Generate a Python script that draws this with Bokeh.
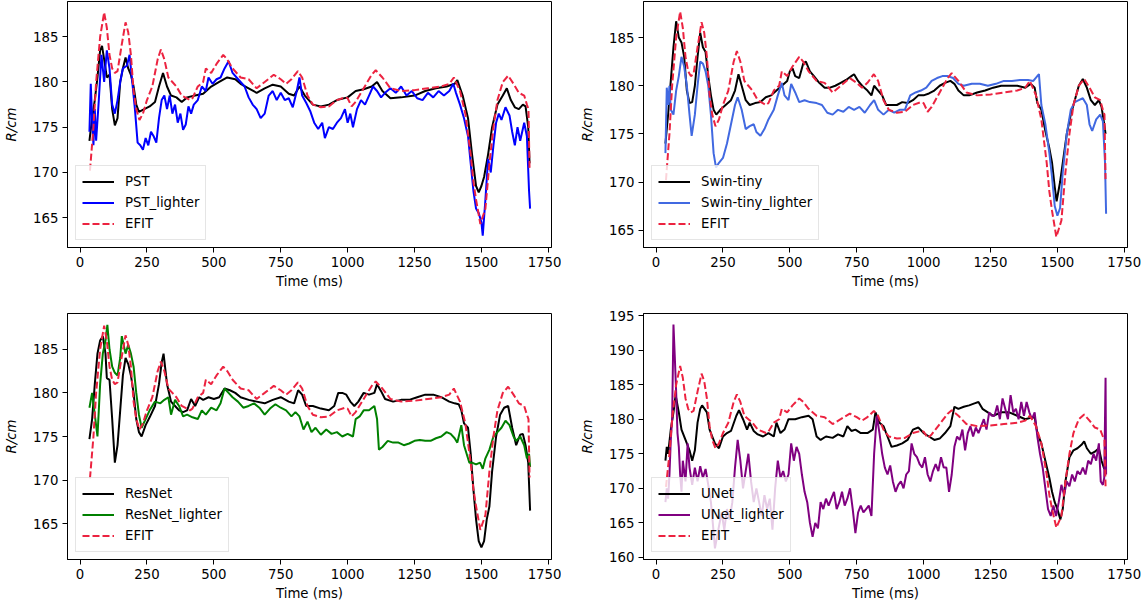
from bokeh.plotting import figure
from bokeh.layouts import gridplot
from bokeh.models import Range1d, FixedTicker, Legend, LegendItem
from bokeh.embed import file_html
from bokeh.resources import INLINE

# ---------------- data ----------------
efit_t = [37, 50, 60, 75, 90, 100, 110, 120, 130, 140, 155, 170, 180, 190, 200, 210, 222, 235, 250, 270,
          290, 302, 315, 330, 345, 360, 380, 411, 420, 440, 460, 470, 490, 510, 535, 550, 570, 600, 630, 660,
          690, 724, 750, 770, 790, 814, 830, 850, 870, 900, 930, 960, 990, 1000, 1015, 1030, 1060, 1090, 1105, 1130,
          1160, 1200, 1250, 1300, 1350, 1380, 1397, 1420, 1440, 1460, 1470, 1480, 1496, 1515, 1530, 1545, 1560, 1580, 1600, 1620,
          1640, 1660, 1670, 1676, 1680]
efit_v = [170.2, 175, 180, 185, 187.7, 186, 183, 181.5, 181, 181.2, 184, 186.6, 185.5, 183, 179, 177, 175.8, 176.5, 178, 179.5,
          182.5, 183.6, 182.5, 180.5, 180, 179.5, 178.5, 178, 178.2, 179.5, 180, 181.5, 181, 182, 183, 182.5, 181.5, 180.5, 180.3, 179.3,
          180, 180.8, 180.3, 179.8, 180.3, 181.2, 180.5, 178.5, 177.5, 177.2, 177.3, 178, 178.3, 178.2, 177.3, 177.8, 179.3, 180.8, 181.3, 180.5,
          179.3, 179, 179.1, 179.3, 179.5, 179.8, 180.5, 179, 176.5, 172, 169, 167, 164.3, 166, 171, 175, 178, 180, 180.7, 179.8,
          178.8, 178.5, 177.5, 177, 170.3]

pst_t = [35, 45, 55, 65, 75, 82, 90, 100, 110, 120, 130, 140, 150, 160, 170, 180, 190, 200, 210, 220,
         240, 260, 280, 295, 310, 325, 340, 360, 380, 400, 430, 460, 490, 520, 550, 580, 600, 630, 660, 690,
         720, 750, 780, 800, 820, 840, 870, 900, 930, 960, 1000, 1030, 1060, 1090, 1110, 1130, 1160, 1200, 1250, 1290,
         1330, 1370, 1400, 1410, 1430, 1450, 1465, 1480, 1490, 1500, 1510, 1525, 1540, 1560, 1580, 1595, 1610, 1625, 1640, 1655,
         1665, 1675, 1680]
pst_v = [173.5, 176, 178, 180.5, 183.5, 184, 182.5, 180.5, 180.8, 177, 175.2, 176, 180, 181.5, 182.7, 181.5, 180.8, 179.5, 177.5, 176.7,
         177, 177.3, 177.8, 179.5, 181, 179.5, 178.5, 178.3, 177.8, 178.3, 178.5, 178.7, 179.5, 180, 180.5, 180.3, 179.8, 179.3, 178.8, 179.3,
         179.7, 179.5, 178.7, 178.5, 179.5, 178.5, 177.5, 177.3, 177.5, 178, 178.3, 179, 179.2, 179.5, 180, 179, 178.2, 178.3, 178.5, 179,
         179.3, 179.5, 179.8, 180.2, 178.5, 176, 172, 168.5, 167.8, 168.5, 169.5, 172, 175, 177.5, 178.5, 179.3, 178, 177.2, 177, 177.5,
         177.3, 175, 171]

pstl_t = [35, 40, 45, 50, 55, 60, 70, 80, 90, 100, 110, 120, 130, 140, 150, 160, 175, 185, 195, 205,
          215, 225, 235, 245, 255, 265, 275, 285, 295, 305, 315, 325, 335, 345, 355, 365, 375, 385, 395, 405,
          415, 425, 440, 455, 470, 480, 495, 510, 525, 540, 555, 570, 585, 600, 615, 630, 645, 660, 675, 690,
          705, 720, 735, 750, 765, 780, 795, 810, 820, 830, 845, 860, 875, 890, 905, 915, 930, 945, 960, 975,
          990, 1000, 1010, 1020, 1035, 1050, 1065, 1080, 1095, 1110, 1125, 1140, 1160, 1180, 1200, 1220, 1240, 1260, 1280, 1300,
          1320, 1340, 1360, 1380, 1395, 1405, 1420, 1435, 1450, 1460, 1470, 1480, 1490, 1500, 1505, 1515, 1525, 1535, 1545, 1555,
          1565, 1575, 1590, 1605, 1615, 1625, 1635, 1645, 1660, 1670, 1678, 1682]
pstl_v = [174.5, 179.8, 176, 173, 177, 173.5, 178, 183, 180, 183.5, 181.5, 177.5, 176.5, 178, 180, 181.5, 181.8, 183, 180, 177,
          173.3, 173, 172.5, 173.8, 173, 174.5, 174, 173.3, 176, 178, 178.5, 177, 178.5, 176.5, 177.5, 175.5, 176.5, 174.7, 175.3, 177.3,
          176.5, 177.5, 178, 179.5, 179, 180.5, 179.8, 180.3, 180.5, 181.5, 182.3, 181, 180.5, 180, 179.5, 178.3, 177.5, 177, 176, 176.5,
          178.5, 179, 178, 178.8, 178, 178.2, 177.2, 179, 180.5, 178.5, 177.7, 176.8, 175.5, 174.8, 175.5, 173.8, 175, 174.8, 175.5, 176,
          177, 175.5, 176.5, 175, 177, 178, 177.5, 178.5, 179.5, 179, 178.3, 178.8, 179.3, 178.8, 179.5, 178.5, 179, 178.2, 178, 178.8,
          178.3, 179, 178.5, 179, 179.8, 178.8, 177.5, 176, 174, 171, 168, 166, 165.5, 164.5, 163, 167, 171.5, 170, 173, 175.5,
          176.5, 175.8, 177.2, 176.3, 174.5, 173, 175, 173.5, 175.5, 174, 168, 166]

swin_t = [35, 45, 55, 65, 75, 85, 95, 105, 115, 125, 135, 145, 155, 165, 175, 185, 195, 205, 215, 225,
          240, 260, 280, 295, 308, 320, 335, 350, 370, 390, 410, 430, 450, 470, 490, 500, 510, 520, 535, 550,
          560, 575, 590, 610, 630, 650, 670, 690, 710, 730, 740, 755, 770, 790, 805, 815, 830, 845, 860, 880,
          900, 920, 940, 960, 980, 1000, 1020, 1040, 1060, 1080, 1100, 1115, 1130, 1150, 1170, 1200, 1230, 1260, 1290, 1320,
          1350, 1380, 1400, 1415, 1425, 1440, 1455, 1470, 1480, 1490, 1497, 1510, 1520, 1535, 1550, 1565, 1580, 1595, 1610, 1625,
          1640, 1655, 1665, 1675, 1680]
swin_v = [174, 177, 180.5, 184, 186.7, 185, 184.5, 183, 179.5, 178.2, 178.3, 180, 183, 185.5, 184, 183.5, 181, 179, 177.5, 177,
          177.5, 178, 178.5, 179.5, 181.2, 180, 178.5, 178, 178.2, 178.3, 178.8, 179, 179.5, 180, 180.5, 181.5, 181.8, 181, 180.8, 182.3,
          182.5, 181.5, 181, 180.3, 179.8, 179.8, 180, 180.3, 180.6, 181, 181.2, 180.5, 180, 179.5, 179, 180, 179.5, 179, 178, 178,
          178, 178.3, 178.2, 178.5, 179, 179, 179.2, 179.5, 180, 180.3, 180.5, 180.2, 179.5, 179, 179, 179.3, 179.5, 179.8, 180, 180,
          180, 179.8, 180.2, 179.8, 178.2, 177.5, 175.3, 173.5, 172, 169.5, 168, 170, 172, 175, 177, 178.5, 180, 180.7, 179.8, 178.5,
          178, 178.5, 177.8, 176, 175]

swinl_t = [35, 40, 45, 50, 55, 65, 75, 85, 95, 105, 115, 125, 133, 145, 155, 165, 175, 185, 195, 205,
           215, 224, 235, 250, 265, 280, 295, 305, 320, 335, 350, 365, 375, 390, 405, 420, 440, 455, 470, 480,
           495, 505, 520, 535, 555, 575, 600, 620, 640, 660, 680, 700, 720, 740, 760, 780, 800, 815, 830, 850,
           870, 890, 910, 930, 950, 970, 990, 1010, 1030, 1050, 1070, 1090, 1110, 1130, 1150, 1180, 1210, 1240, 1270, 1300,
           1330, 1360, 1390, 1410, 1431, 1440, 1455, 1470, 1480, 1490, 1500, 1510, 1520, 1535, 1550, 1565, 1580, 1595, 1610, 1620,
           1630, 1645, 1660, 1670, 1678, 1682]
swinl_v = [173, 179.8, 178, 180, 177.5, 177, 179.5, 181, 183, 182, 180, 177, 174.8, 177, 180, 182.5, 182.3, 181.5, 180, 177,
           173, 171.5, 172, 172.5, 174, 176, 178, 178.8, 177.5, 175.5, 175.8, 176, 175.2, 174.8, 175.5, 176.5, 177.5, 179, 180.3, 179,
           178.5, 180.2, 179.3, 178.3, 178.5, 178.3, 178.2, 178, 177.2, 177, 177.5, 177.3, 177.8, 177.5, 177.8, 177.2, 178, 178.5, 177.5, 177,
           177.5, 177.2, 177.5, 177.5, 179, 179.3, 179.5, 179.8, 180.5, 180.8, 181, 181, 180.8, 180.2, 180, 180.2, 180.2, 180, 180.2, 180.5,
           180.5, 180.6, 180.6, 180.5, 181.2, 178, 176, 173, 170.5, 167.5, 166.5, 167.3, 171, 175, 177.5, 178.3, 178.5, 178.7, 178, 176,
           175.3, 176.5, 177, 176.3, 172, 166.7]

res_t = [35, 45, 55, 65, 75, 85, 95, 100, 110, 120, 130, 140, 150, 160, 170, 180, 190, 200, 210, 220,
         230, 245, 260, 280, 295, 305, 312, 325, 340, 355, 370, 385, 400, 415, 430, 445, 460, 480, 500, 520,
         540, 560, 580, 600, 630, 660, 690, 720, 750, 780, 800, 815, 830, 845, 870, 900, 930, 950, 965, 980,
         995, 1010, 1025, 1040, 1060, 1080, 1100, 1110, 1125, 1140, 1170, 1200, 1230, 1260, 1290, 1320, 1350, 1380, 1400, 1415,
         1425, 1435, 1450, 1460, 1470, 1480, 1490, 1500, 1510, 1520, 1530, 1540, 1555, 1570, 1585, 1600, 1615, 1630, 1645, 1655,
         1665, 1675, 1682]
res_v = [174.7, 177, 181, 184.5, 186, 186.5, 184.5, 181.7, 181.5, 177, 172, 174, 178, 182, 184, 183.3, 182, 180, 177, 175.5,
         175, 176.3, 177.2, 178.5, 181, 183.5, 184.5, 181, 179, 178.5, 178, 177.8, 178, 179.3, 178.5, 179.5, 179.2, 179.5, 179.3, 179.5,
         180.5, 180.3, 180, 179.5, 179.2, 179, 178.8, 179.2, 179.5, 179, 178.8, 180.3, 179.8, 178.5, 178.5, 178.2, 178, 178.5, 180, 180,
         179.8, 179, 178.5, 179, 180, 179.8, 180, 181, 180.2, 179.3, 179, 179.2, 179.2, 179.5, 179.8, 179.8, 179.5, 179, 178.8, 178.7,
         178, 176.5, 176, 173, 169, 165.5, 163, 162.3, 163, 165.5, 167, 171, 175, 177.5, 178.3, 178.5, 176, 174, 175.2, 175.3,
         174, 172, 166.5]

resl_t = [35, 45, 55, 65, 75, 85, 95, 102, 110, 120, 130, 140, 150, 156, 170, 180, 190, 200, 210, 220,
          230, 245, 260, 280, 300, 315, 330, 340, 355, 370, 385, 400, 420, 440, 455, 470, 490, 510, 525, 540,
          555, 570, 590, 610, 630, 650, 670, 690, 710, 730, 750, 770, 790, 805, 820, 835, 850, 865, 880, 900,
          920, 940, 960, 980, 1000, 1020, 1030, 1045, 1060, 1080, 1100, 1110, 1117, 1130, 1150, 1170, 1190, 1210, 1230, 1250,
          1270, 1290, 1310, 1330, 1350, 1370, 1385, 1400, 1410, 1425, 1435, 1445, 1455, 1465, 1480, 1495, 1505, 1515, 1530, 1545,
          1560, 1575, 1590, 1605, 1620, 1630, 1645, 1660, 1670, 1678, 1682]
resl_v = [178.3, 180, 177.5, 175, 181, 184.5, 186, 187.8, 185, 183, 182.3, 182, 184, 186.5, 184.5, 185.5, 184.5, 183, 180, 177.5,
          176, 177, 178, 179, 178.8, 179.2, 179.5, 177.5, 179.2, 178.5, 177.3, 177.5, 177.2, 177, 178, 177.5, 178.3, 178, 178.8, 180.5,
          180, 179.5, 179, 178.3, 178.5, 178.8, 178.3, 177.5, 178.2, 178.7, 178.3, 178, 177.3, 177.8, 177.3, 175.8, 176.7, 175.5, 176, 175.2,
          175.8, 175.3, 175.5, 175, 175.3, 175, 177, 177.3, 178, 178, 178.5, 177, 173.5, 173.8, 174.5, 174.3, 174.3, 174, 174.2, 174.5,
          174.6, 174.5, 174.5, 174.8, 175, 175.5, 175.3, 174.8, 174.3, 176.3, 174, 173, 172, 172, 171.8, 172, 171.3, 172.5, 173.5, 175,
          175.5, 176, 176.8, 176.3, 175, 174.5, 175, 174, 172.5, 173, 171.5]

unet_t = [35, 40, 45, 55, 65, 73, 85, 95, 110, 125, 135, 145, 155, 165, 172, 190, 200, 210, 220, 235,
          250, 265, 280, 300, 310, 325, 340, 350, 365, 380, 400, 420, 440, 450, 465, 480, 495, 520, 545, 570,
          585, 600, 615, 635, 660, 680, 700, 715, 730, 745, 765, 790, 810, 820, 835, 850, 865, 880, 900, 920,
          940, 960, 980, 1000, 1020, 1040, 1060, 1080, 1100, 1115, 1130, 1150, 1170, 1190, 1205, 1220, 1240, 1260, 1290, 1320,
          1350, 1380, 1400, 1415, 1425, 1440, 1455, 1470, 1480, 1490, 1500, 1511, 1520, 1530, 1545, 1560, 1575, 1590, 1600, 1610,
          1625, 1640, 1655, 1665, 1675, 1682]
unet_v = [174, 176, 175, 178.5, 181, 183.5, 181, 178.5, 177, 175.5, 174, 175.5, 179.5, 181.5, 182, 181, 178.5, 177.5, 176.5, 175.8,
          177.5, 178, 178.3, 180.5, 181.3, 180, 178.5, 179.5, 178.3, 177.8, 177.5, 178, 177.5, 179.5, 178, 178.5, 180, 180, 180.3, 180.5,
          180, 177.5, 177, 177.5, 177.3, 177.8, 177.5, 179, 178.3, 178.5, 178, 178, 178.5, 181, 179.5, 179, 177.5, 176, 176.2, 176.5,
          177, 178.5, 178.8, 178, 177.5, 177, 177.2, 178, 179, 181.8, 181.5, 181.8, 182, 182.3, 182.5, 181.5, 181, 180.5, 181, 181,
          180.5, 180, 180.2, 180.3, 178, 176.5, 174, 171.5, 169.5, 168, 167, 165.5, 167, 171, 174.5, 175.5, 175.8, 176.3, 176.8, 175.8,
          175, 175.3, 175.8, 174, 172.8, 174]

unetl_t = [35, 40, 45, 50, 55, 60, 65, 70, 75, 80, 85, 90, 95, 100, 110, 118, 125, 135, 145, 155,
           165, 175, 185, 195, 205, 212, 220, 235, 245, 255, 265, 275, 285, 295, 305, 315, 325, 335, 345, 355,
           365, 375, 385, 395, 405, 415, 425, 435, 445, 455, 465, 475, 485, 495, 505, 515, 525, 535, 545, 555,
           565, 575, 585, 595, 605, 615, 625, 635, 645, 655, 665, 675, 685, 695, 705, 715, 725, 735, 745, 755,
           765, 775, 785, 795, 805, 815, 825, 835, 845, 855, 865, 875, 885, 895, 905, 915, 925, 935, 945, 955,
           965, 975, 985, 995, 1005, 1015, 1025, 1035, 1045, 1055, 1065, 1075, 1085, 1095, 1105, 1115, 1125, 1135, 1145, 1155,
           1165, 1175, 1185, 1195, 1205, 1215, 1225, 1235, 1245, 1255, 1265, 1275, 1285, 1295, 1305, 1315, 1325, 1335, 1345, 1355,
           1365, 1375, 1385, 1395, 1405, 1415, 1425, 1435, 1445, 1455, 1465, 1475, 1485, 1495, 1505, 1515, 1525, 1535, 1545, 1555,
           1565, 1575, 1585, 1595, 1605, 1615, 1625, 1635, 1645, 1655, 1662, 1670, 1675, 1680, 1682]
unetl_v = [168, 170, 168.5, 172, 177, 180, 193.7, 189, 184, 178, 176, 172, 169.5, 174, 171, 176.5, 173, 170.5, 173, 171,
           173.2, 171.5, 172.8, 170.5, 168, 165, 161.3, 164.5, 166.5, 164, 167, 165.5, 168, 173, 177, 174, 170, 172.5, 175, 171,
           168, 170, 168, 166, 169, 167, 168.5, 164, 170, 174, 171.5, 172.5, 171, 172, 176.5, 174, 176, 175, 172, 169.5,
           168, 165, 163, 165, 164.2, 168, 167, 168.5, 167.5, 168.5, 169.5, 167, 168, 169.5, 167.5, 168.5, 170, 167, 163.5, 166.5,
           167.5, 166.5, 167, 167.5, 166, 175, 180.5, 178, 175, 173, 172, 173.3, 171, 169.5, 170.5, 171, 170, 172, 172.5, 176.5,
           175, 174.5, 173.5, 173, 174.5, 172, 171, 172.5, 173.5, 172.5, 174.5, 173, 173, 169.5, 172, 176, 177.5, 177, 178.5, 175.5,
           178, 179, 177.5, 178.8, 178, 179, 180, 178.5, 181, 180.5, 180.5, 182, 180, 183, 181.5, 180, 183.5, 181, 181.5, 180,
           182.5, 180.5, 182.5, 181, 180, 181, 177.5, 175, 173, 170, 167, 166, 167.5, 166, 168, 170.5, 169, 171, 170.3, 172,
           171, 172.5, 172, 173, 172, 174, 173.5, 175, 174, 176.5, 171, 170.5, 171.5, 186, 172]

x_ticks = [0, 250, 500, 750, 1000, 1250, 1500, 1750]
y_ticks_a = [165, 170, 175, 180, 185]
y_ticks_b = [160, 165, 170, 175, 180, 185, 190, 195]

EFIT_COLOR = "#ec2340"
FONT = "DejaVu Sans"


def make_panel(model, lighter, labels, colors, y_range, y_ticks, borders, width, height):
    left, right, top, bottom = borders
    p = figure(width=width, height=height, output_backend="svg", toolbar_location=None,
               x_range=Range1d(-47, 1762), y_range=Range1d(*y_range),
               min_border_left=left, min_border_right=right,
               min_border_top=top, min_border_bottom=bottom)
    p.xgrid.visible = False
    p.ygrid.visible = False
    p.outline_line_color = "black"
    p.outline_line_width = 1
    p.outline_line_alpha = 1
    p.background_fill_color = "white"
    for ax in (p.xaxis[0], p.yaxis[0]):
        ax.axis_line_color = "black"
        ax.major_tick_line_color = "black"
        ax.minor_tick_line_color = None
        ax.major_tick_out = 5
        ax.major_tick_in = 0
        ax.major_label_text_font = FONT
        ax.major_label_text_font_size = "13.3px"
        ax.major_label_text_color = "black"
        ax.axis_label_text_font = FONT
        ax.axis_label_text_font_size = "13.3px"
        ax.axis_label_text_font_style = "normal"
        ax.axis_label_text_color = "black"
        ax.major_label_standoff = 4
    p.xaxis.ticker = FixedTicker(ticks=x_ticks)
    p.yaxis.ticker = FixedTicker(ticks=y_ticks)
    p.xaxis.axis_label = "Time (ms)"
    p.xaxis.axis_label_standoff = 4
    p.yaxis.axis_label = "R/cm"
    p.yaxis.axis_label_text_font_style = "italic"
    p.yaxis.axis_label_standoff = 11

    r1 = p.line(model[0], model[1], line_color="black", line_width=2)
    r2 = p.line(lighter[0], lighter[1], line_color=colors, line_width=2)
    r3 = p.line(efit_t, efit_v, line_color=EFIT_COLOR, line_width=2, line_dash="7 3")

    legend = Legend(items=[LegendItem(label=labels[0], renderers=[r1]),
                           LegendItem(label=labels[1], renderers=[r2]),
                           LegendItem(label="EFIT", renderers=[r3])],
                    location=(8, 7), margin=0, padding=6, spacing=2,
                    glyph_width=32, glyph_height=19, label_height=19, label_standoff=11,
                    label_text_font=FONT, label_text_font_size="13.3px", label_text_color="black",
                    border_line_color="#cccccc", border_line_width=1,
                    background_fill_color="white", background_fill_alpha=0.8)
    p.add_layout(legend, "center")
    return p


p1 = make_panel((pst_t, pst_v), (pstl_t, pstl_v), ("PST", "PST_lighter"), "#0000ff",
                (161.7, 188.9), y_ticks_a, (67, 10, 1, 58), 561, 305)
p2 = make_panel((swin_t, swin_v), (swinl_t, swinl_v), ("Swin-tiny", "Swin-tiny_lighter"), "#4169e1",
                (163.2, 188.75), y_ticks_a, (82, 19, 1, 58), 585, 305)
p3 = make_panel((res_t, res_v), (resl_t, resl_v), ("ResNet", "ResNet_lighter"), "#008000",
                (160.9, 189.1), y_ticks_a, (67, 10, 8, 51), 561, 305)
p4 = make_panel((unet_t, unet_v), (unetl_t, unetl_v), ("UNet", "UNet_lighter"), "#800080",
                (159.7, 195.3), y_ticks_b, (82, 19, 8, 51), 585, 305)

grid = gridplot([[p1, p2], [p3, p4]], toolbar_location=None)
open("out.html", "w").write(file_html(grid, INLINE))
